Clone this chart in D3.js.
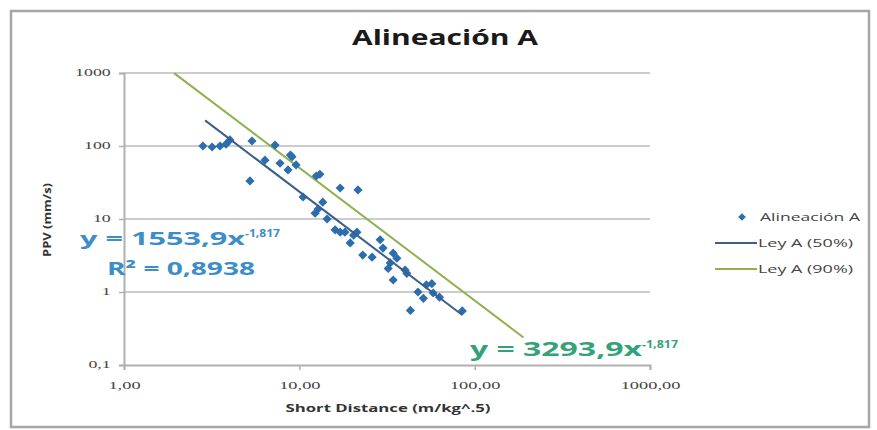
<!DOCTYPE html>
<html><head><meta charset="utf-8">
<script src="https://cdn.jsdelivr.net/npm/d3@7"></script>
<style>body{margin:0;background:#fff}svg{display:block}</style>
</head><body>
<svg id="c" width="877" height="430"></svg>
<script>
// ---- data ----
const distance = [2.82,3.18,3.53,3.82,4.02,5.23,5.37,7.27,6.37,7.76,8.62,8.9,9.08,9.58,10.5,12.5,13.1,13.6,12.3,12.8,14.4,17.1,21.6,16.0,17.1,18.2,20.4,21.3,19.5,23.0,26.0,28.9,30.0,33.0,34.3,32.1,34.3,36.0,40.1,41.0,47.5,51.0,53.0,57.0,58.0,63.0,43.0,85.0];
const ppv      = [100,97,100,106,121,33.2,117,103,64,58,47,75,71,55,20,38.8,41,17,12,13.7,10,26.6,25,7.1,6.6,6.6,6.0,6.6,4.7,3.2,3.0,5.2,4.0,2.5,3.4,2.1,1.46,2.9,2.0,1.8,1.0,0.82,1.25,1.3,0.97,0.85,0.56,0.55];
const xTicks = [1,10,100,1000];
const xTickLabels = ["1,00","10,00","100,00","1000,00"];
const yTicks = [0.1,1,10,100,1000];
const yTickLabels = ["0,1","1","10","100","1000"];
const law50 = {a:1553.9, b:-1.817, from:2.9, to:85};
const law90 = {a:3293.9, b:-1.817, from:1.93, to:190};
const seriesNames = ["Alineación A","Ley A (50%)","Ley A (90%)"];
const title = "Alineación A";
const xTitle = "Short Distance (m/kg^.5)";
const yTitle = "PPV (mm/s)";

const svg = d3.select("#c");
const x = d3.scaleLog().domain([1,1000]).range([124,650]);
const y = d3.scaleLog().domain([0.1,1000]).range([365,73]);

// widen text horizontally (reference is stretched)
function stretch(sel, k){
  sel.each(function(){
    const w = this.getComputedTextLength();
    d3.select(this).attr("textLength", w*k).attr("lengthAdjust","spacingAndGlyphs");
  });
}

// outer border
svg.append("rect").attr("x",11).attr("y",11).attr("width",858).attr("height",416)
  .attr("fill","none").attr("stroke","#a6a6a6").attr("stroke-width",2.5);

// title
svg.append("text").attr("x",445).attr("y",45).attr("text-anchor","middle")
  .attr("font-family","Open Sans").attr("font-weight","bold").attr("font-size",22)
  .attr("fill","#1a1a1a").text(title).attr("textLength",186).attr("lengthAdjust","spacingAndGlyphs");

// gridlines
svg.append("g").selectAll("line").data(yTicks.slice(1)).join("line")
  .attr("x1",x(1)).attr("x2",x(1000)).attr("y1",d=>y(d)).attr("y2",d=>y(d))
  .attr("stroke","#cccccc").attr("stroke-width",2.2);

// axes
const yAxis = d3.axisLeft(y).tickValues(yTicks).tickFormat((d,i)=>yTickLabels[i]).tickSize(5);
const gy = svg.append("g").attr("transform",`translate(${x(1)},0)`).call(yAxis);
const xAxis = d3.axisBottom(x).tickValues(xTicks).tickFormat((d,i)=>xTickLabels[i]).tickSize(5);
const gx = svg.append("g").attr("transform",`translate(0,${y(0.1)})`).call(xAxis);
[gx,gy].forEach(g=>{
  g.selectAll(".domain").attr("stroke","#b0b0b0").attr("stroke-width",2);
  g.selectAll(".tick line").attr("stroke","#b0b0b0").attr("stroke-width",1.5);
  g.selectAll("text").attr("font-family","Liberation Serif").attr("font-size",10.5).attr("fill","#444");
});
gx.selectAll("text").attr("dy","1.5em");
gy.selectAll("text").attr("dx","-0.5em").attr("dy","0.2em");
stretch(gx.selectAll("text"),1.75);
stretch(gy.selectAll("text"),1.7);

// axis titles
svg.append("text").attr("x",388).attr("y",412).attr("text-anchor","middle")
  .attr("font-family","Open Sans").attr("font-weight","bold").attr("font-size",11)
  .attr("fill","#333").text(xTitle).attr("textLength",205).attr("lengthAdjust","spacingAndGlyphs");
svg.append("text").attr("transform","translate(51,220) rotate(-90)").attr("text-anchor","middle")
  .attr("font-family","Open Sans").attr("font-weight","bold").attr("font-size",11)
  .attr("fill","#333").text(yTitle).attr("textLength",74).attr("lengthAdjust","spacingAndGlyphs");

// trend lines
const line = d3.line().x(d=>x(d[0])).y(d=>y(d[1]));
function lawPts(l){ return [l.from,l.to].map(v=>[v, l.a*Math.pow(v,l.b)]); }
svg.append("path").attr("d",line(lawPts(law90))).attr("fill","none")
  .attr("stroke","#8fb04d").attr("stroke-width",2);

// points
const pts = distance.map((d,i)=>[d,ppv[i]]);
const diamond = d3.symbol().type(d3.symbolSquare).size(42);
svg.append("g").selectAll("path").data(pts).join("path")
  .attr("d",diamond).attr("transform",d=>`translate(${x(d[0])},${y(d[1])}) rotate(45)`)
  .attr("fill","#2c6dae");

svg.append("path").attr("d",line(lawPts(law50))).attr("fill","none")
  .attr("stroke","#3b5f8a").attr("stroke-width",2);

// equation labels
const eq1 = svg.append("text").attr("x",80).attr("y",245).attr("font-family","Open Sans")
  .attr("font-weight","bold").attr("font-size",18).attr("fill","#3d8dc8");
eq1.append("tspan").text("y = 1553,9x").attr("textLength",165).attr("lengthAdjust","spacingAndGlyphs");
eq1.append("tspan").attr("dy",-8).attr("font-size",11).text("-1,817").attr("textLength",35).attr("lengthAdjust","spacingAndGlyphs");
svg.append("text").attr("x",107).attr("y",275).attr("font-family","Open Sans")
  .attr("font-weight","bold").attr("font-size",18).attr("fill","#3d8dc8").text("R² = 0,8938")
  .attr("textLength",148).attr("lengthAdjust","spacingAndGlyphs");
const eq2 = svg.append("text").attr("x",470).attr("y",356).attr("font-family","Open Sans")
  .attr("font-weight","bold").attr("font-size",19).attr("fill","#33a27a");
eq2.append("tspan").text("y = 3293,9x").attr("textLength",172).attr("lengthAdjust","spacingAndGlyphs");
eq2.append("tspan").attr("dy",-8).attr("font-size",11).text("-1,817").attr("textLength",36).attr("lengthAdjust","spacingAndGlyphs");

// legend
const lg = svg.append("g").attr("font-family","Open Sans").attr("font-size",11).attr("fill","#444");
lg.append("path").attr("d",d3.symbol().type(d3.symbolSquare).size(30)).attr("transform","translate(742,217) rotate(45)").attr("fill","#2c6dae");
lg.append("text").attr("x",760).attr("y",221).text(seriesNames[0]).attr("textLength",100).attr("lengthAdjust","spacingAndGlyphs");
lg.append("line").attr("x1",715).attr("x2",757).attr("y1",243).attr("y2",243).attr("stroke","#3b5f8a").attr("stroke-width",2);
lg.append("text").attr("x",758).attr("y",247).text(seriesNames[1]).attr("textLength",95).attr("lengthAdjust","spacingAndGlyphs");
lg.append("line").attr("x1",715).attr("x2",757).attr("y1",269).attr("y2",269).attr("stroke","#8fb04d").attr("stroke-width",2);
lg.append("text").attr("x",758).attr("y",273).text(seriesNames[2]).attr("textLength",95).attr("lengthAdjust","spacingAndGlyphs");
</script>
</body></html>
